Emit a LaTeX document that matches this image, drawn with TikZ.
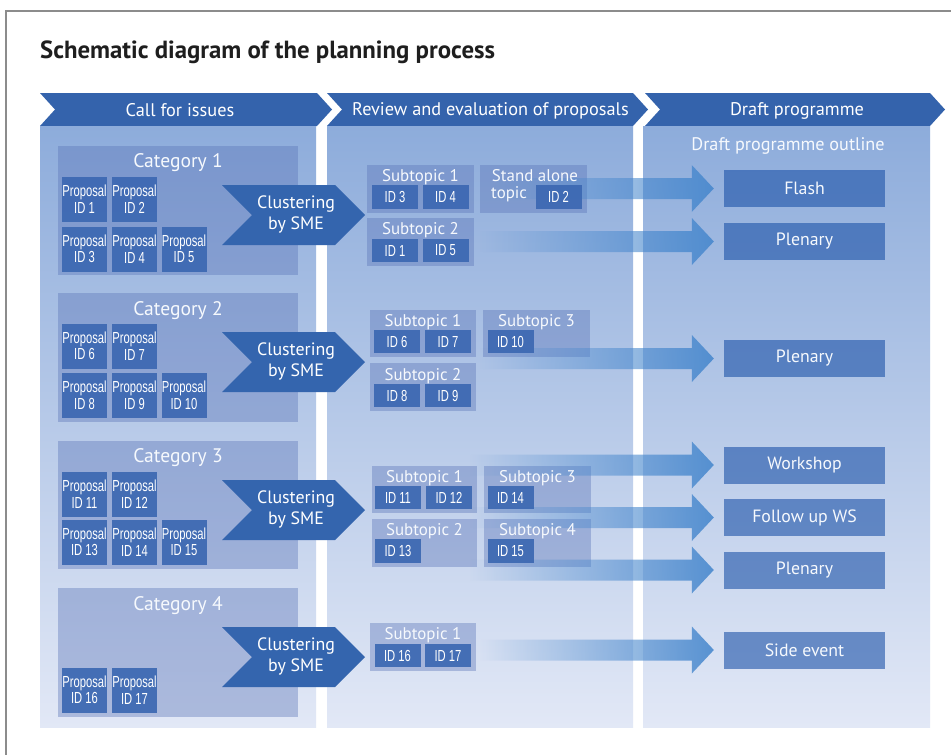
\documentclass[tikz,border=0pt]{standalone}
\usepackage{fontspec}
\setmainfont{PT Sans}
\newfontfamily\narrowfont[FakeStretch=0.7]{Liberation Sans}
\usetikzlibrary{fadings,calc}
\definecolor{hdr}{RGB}{52,99,172}
\definecolor{bodytop}{RGB}{141,172,219}
\definecolor{bodybot}{RGB}{226,232,246}
\definecolor{ovl}{RGB}{89,115,183}
\definecolor{propc}{RGB}{60,104,178}
\definecolor{clus}{RGB}{52,101,174}
\definecolor{outc}{RGB}{28,82,168}
\definecolor{arrc}{RGB}{70,135,205}
\definecolor{txtw}{RGB}{246,249,253}
\definecolor{framec}{RGB}{140,140,140}
\definecolor{titlec}{RGB}{30,30,30}
\tikzfading[name=fadeR, left color=transparent!100, right color=transparent!0]
\newcommand{\fadearrow}[2]{%
  \fill[bigarrow] let \p1=(#2.west) in
    (#1pt,\y1+10.5pt) -- (\x1-32pt,\y1+10.5pt) -- (\x1-32pt,\y1+23.5pt) --
    (\x1-10pt,\y1) -- (\x1-32pt,\y1-23.5pt) -- (\x1-32pt,\y1-10.5pt) --
    (#1pt,\y1-10.5pt) -- cycle;}
\newcommand{\chevronpath}[6]{%
  \fill[#6] (#1,#3) -- (#2,#3) -- ({#2+#5},{(#3+#4)/2}) -- (#2,#4) -- (#1,#4) -- ({#1+#5},{(#3+#4)/2}) -- cycle;}
\begin{document}
\begin{tikzpicture}[x=1pt,y=-1pt,
  colbody/.style={top color=bodytop, bottom color=bodybot, draw=none},
  ovlbox/.style={fill=ovl, fill opacity=0.39, draw=none, inner sep=0, anchor=north west},
  propbox/.style={fill=propc, fill opacity=0.92, text opacity=1, text=white, inner sep=0,
     minimum width=45, minimum height=45, align=center,
     font=\narrowfont\fontsize{16}{16.5}\selectfont},
  idbox/.style={fill=propc, fill opacity=0.92, text opacity=1, text=white, inner sep=0,
     minimum width=46, minimum height=23.5, font=\narrowfont\fontsize{16}{16.5}\selectfont},
  outbox/.style={fill=outc, fill opacity=0.6, text opacity=1, text=txtw, inner sep=0,
     minimum width=161, minimum height=37, font=\fontsize{17.8}{20}\selectfont},
  hdrtxt/.style={text=white, inner sep=0, font=\fontsize{18.3}{20}\selectfont},
  cattxt/.style={text=txtw, inner sep=0, font=\fontsize{19.6}{21}\selectfont},
  subtxt/.style={text=txtw, inner sep=0, font=\fontsize{16.9}{18}\selectfont},
  clustxt/.style={text=white, inner sep=0, align=center, font=\fontsize{17.9}{20.5}\selectfont},
  bigarrow/.style={fill=arrc, fill opacity=0.88, path fading=fadeR},
  clusfill/.style={fill=clus},
  hdrfill/.style={fill=hdr}]
\useasboundingbox (0,0) rectangle (951,755);
\fill[white] (0,0) rectangle (951,755);
\draw[framec, line width=1.5] (6,755) -- (6,11) -- (951,11);
\node[anchor=west, inner sep=0, text=titlec, font=\bfseries\fontsize{24.8}{26}\selectfont] (title) at (40,52.5) {Schematic diagram of the planning process};
% headers
\chevronpath{40}{317}{93}{126}{15}{hdrfill}
\chevronpath{327}{633}{93}{126}{15}{hdrfill}
\chevronpath{645}{930}{93}{126}{15}{hdrfill}
\node[hdrtxt] (h1) at (180,110.5) {Call for issues};
\node[hdrtxt] (h2) at (490.5,110.5) {Review and evaluation of proposals};
\node[hdrtxt] (h3) at (797,110.5) {Draft programme};
% bodies
\fill[colbody] (40,126) rectangle (316,727);
\fill[colbody] (327,126) rectangle (633,727);
\fill[colbody] (643,126) rectangle (930,727);
\node[subtxt, font=\fontsize{18.2}{19}\selectfont] (outl) at (788,145.5) {Draft programme outline};
% categories
\node[ovlbox, minimum width=240, minimum height=129] (cat1) at (58,146) {};
\node[ovlbox, minimum width=240, minimum height=129] (cat2) at (58,293) {};
\node[ovlbox, minimum width=240, minimum height=128] (cat3) at (58,441) {};
\node[ovlbox, minimum width=240, minimum height=129] (cat4) at (58,588) {};
\node[cattxt] (c1t) at (178,163) {Category 1};
\node[cattxt] (c2t) at (178,311) {Category 2};
\node[cattxt] (c3t) at (178,458) {Category 3};
\node[cattxt] (c4t) at (178,606) {Category 4};
% proposals
\node[propbox] (p1) at (84.5,199) {Proposal\\ID 1};
\node[propbox] (p2) at (134.5,199) {Proposal\\ID 2};
\node[propbox] (p3) at (84.5,249) {Proposal\\ID 3};
\node[propbox] (p4) at (134.5,249) {Proposal\\ID 4};
\node[propbox] (p5) at (184,249) {Proposal\\ID 5};
\node[propbox] (p6) at (84.5,346) {Proposal\\ID 6};
\node[propbox] (p7) at (134.5,346) {Proposal\\ID 7};
\node[propbox] (p8) at (84.5,395.5) {Proposal\\ID 8};
\node[propbox] (p9) at (134.5,395.5) {Proposal\\ID 9};
\node[propbox] (p10) at (184,395.5) {Proposal\\ID 10};
\node[propbox] (p11) at (84.5,494) {Proposal\\ID 11};
\node[propbox] (p12) at (134.5,494) {Proposal\\ID 12};
\node[propbox] (p13) at (84.5,542) {Proposal\\ID 13};
\node[propbox] (p14) at (134.5,542) {Proposal\\ID 14};
\node[propbox] (p15) at (184,542) {Proposal\\ID 15};
\node[propbox] (p16) at (84.5,690) {Proposal\\ID 16};
\node[propbox] (p17) at (134.5,690) {Proposal\\ID 17};
% clustering chevrons
\chevronpath{222}{335}{185}{245}{30}{clusfill}
\chevronpath{222}{335}{332}{392}{30}{clusfill}
\chevronpath{222}{335}{480}{540}{30}{clusfill}
\chevronpath{222}{335}{627}{687}{30}{clusfill}
\node[clustxt] (k1) at (296,214.5) {Clustering\\by SME};
\node[clustxt] (k2) at (296,361.5) {Clustering\\by SME};
\node[clustxt] (k3) at (296,509.5) {Clustering\\by SME};
\node[clustxt] (k4) at (296,656.5) {Clustering\\by SME};
% subtopic boxes
\node[ovlbox, minimum width=107, minimum height=48] (s11) at (367,165) {};
\node[ovlbox, minimum width=107, minimum height=48] (sa) at (480,165) {};
\node[ovlbox, minimum width=107, minimum height=48] (s12) at (367,218) {};
\node[ovlbox, minimum width=106, minimum height=47] (s21) at (370,310) {};
\node[ovlbox, minimum width=107, minimum height=47] (s23) at (483,310) {};
\node[ovlbox, minimum width=106, minimum height=48] (s22) at (370,363) {};
\node[ovlbox, minimum width=105, minimum height=47] (s31) at (372,466) {};
\node[ovlbox, minimum width=107, minimum height=47] (s33) at (484,466) {};
\node[ovlbox, minimum width=105, minimum height=48] (s32) at (372,519) {};
\node[ovlbox, minimum width=107, minimum height=48] (s34) at (484,519) {};
\node[ovlbox, minimum width=106, minimum height=48] (s41) at (370,623) {};
% output boxes
\node[outbox] (flash) at (804.5,188.5) {Flash};
\node[outbox] (pl1) at (804.5,241.5) {Plenary};
\node[outbox] (pl2) at (804.5,358.5) {Plenary};
\node[outbox] (ws) at (804.5,465) {Workshop};
\node[outbox] (fu) at (804.5,517.5) {Follow up WS};
\node[outbox] (pl3) at (804.5,570) {Plenary};
\node[outbox] (se) at (804.5,650) {Side event};
% arrows
\fadearrow{490}{flash}
\fadearrow{480}{pl1}
\fadearrow{480}{pl2}
\fadearrow{470}{ws}
\fadearrow{470}{fu}
\fadearrow{470}{pl3}
\fadearrow{480}{se}
% subtopic labels
\node[subtxt] (s11t) at (420.5,177) {Subtopic 1};
\node[subtxt] (sat) at (535,176) {Stand alone};
\node[subtxt, anchor=west] (sat2) at (491,194.5) {topic};
\node[subtxt] (s12t) at (420.5,230) {Subtopic 2};
\node[subtxt] (s21t) at (423,322.5) {Subtopic 1};
\node[subtxt] (s23t) at (536.5,322.5) {Subtopic 3};
\node[subtxt] (s22t) at (423,376) {Subtopic 2};
\node[subtxt] (s31t) at (424.5,478) {Subtopic 1};
\node[subtxt] (s33t) at (537.5,478) {Subtopic 3};
\node[subtxt] (s32t) at (424.5,531) {Subtopic 2};
\node[subtxt] (s34t) at (537.5,531) {Subtopic 4};
\node[subtxt] (s41t) at (423,635) {Subtopic 1};
% ids
\node[idbox] (i3) at (395,197) {ID 3};
\node[idbox] (i4) at (445.5,197) {ID 4};
\node[idbox] (i2) at (558.5,197) {ID 2};
\node[idbox] (i1) at (395,250.5) {ID 1};
\node[idbox] (i5) at (445.5,250.5) {ID 5};
\node[idbox] (i6) at (397,341.5) {ID 6};
\node[idbox] (i7) at (448,341.5) {ID 7};
\node[idbox] (i10) at (510.5,341.5) {ID 10};
\node[idbox] (i8) at (397,395.5) {ID 8};
\node[idbox] (i9) at (448,395.5) {ID 9};
\node[idbox] (i11) at (398,497.5) {ID 11};
\node[idbox] (i12) at (449,497.5) {ID 12};
\node[idbox] (i14) at (510.5,497.5) {ID 14};
\node[idbox] (i13) at (398,551) {ID 13};
\node[idbox] (i15) at (510.5,551) {ID 15};
\node[idbox] (i16) at (397.5,655.5) {ID 16};
\node[idbox] (i17) at (448,655.5) {ID 17};
\end{tikzpicture}
\end{document}
